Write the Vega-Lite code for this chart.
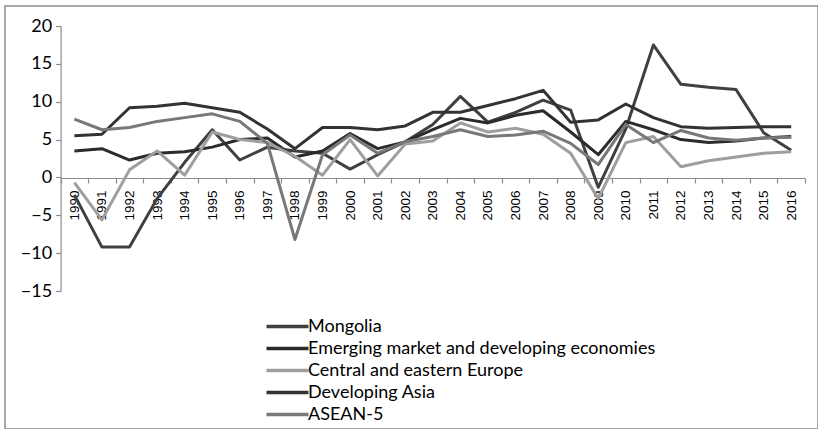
{
  "$schema": "https://vega.github.io/schema/vega-lite/v6.json",
  "width": 813,
  "height": 423,
  "padding": {"left": 5, "top": 6, "right": 0, "bottom": 0},
  "autosize": {"type": "none"},
  "background": "white",
  "config": {
    "view": {"stroke": "#8c8c8c", "strokeWidth": 1.5},
    "axis": {"domainColor": "#8c8c8c", "tickColor": "#8c8c8c", "labelColor": "#000000", "grid": false, "title": null}
  },
  "data": {"values": [
    {"year":"1990","series":"Mongolia","value":-2.3},{"year":"1990","series":"Emerging market and developing economies","value":3.5},{"year":"1990","series":"Central and eastern Europe","value":-0.7},{"year":"1990","series":"Developing Asia","value":5.5},{"year":"1990","series":"ASEAN-5","value":7.7},
    {"year":"1991","series":"Mongolia","value":-9.2},{"year":"1991","series":"Emerging market and developing economies","value":3.8},{"year":"1991","series":"Central and eastern Europe","value":-5.6},{"year":"1991","series":"Developing Asia","value":5.7},{"year":"1991","series":"ASEAN-5","value":6.3},
    {"year":"1992","series":"Mongolia","value":-9.2},{"year":"1992","series":"Emerging market and developing economies","value":2.3},{"year":"1992","series":"Central and eastern Europe","value":1.0},{"year":"1992","series":"Developing Asia","value":9.2},{"year":"1992","series":"ASEAN-5","value":6.6},
    {"year":"1993","series":"Mongolia","value":-2.8},{"year":"1993","series":"Emerging market and developing economies","value":3.2},{"year":"1993","series":"Central and eastern Europe","value":3.5},{"year":"1993","series":"Developing Asia","value":9.4},{"year":"1993","series":"ASEAN-5","value":7.4},
    {"year":"1994","series":"Mongolia","value":2.0},{"year":"1994","series":"Emerging market and developing economies","value":3.4},{"year":"1994","series":"Central and eastern Europe","value":0.3},{"year":"1994","series":"Developing Asia","value":9.8},{"year":"1994","series":"ASEAN-5","value":7.9},
    {"year":"1995","series":"Mongolia","value":6.3},{"year":"1995","series":"Emerging market and developing economies","value":4.0},{"year":"1995","series":"Central and eastern Europe","value":6.0},{"year":"1995","series":"Developing Asia","value":9.2},{"year":"1995","series":"ASEAN-5","value":8.4},
    {"year":"1996","series":"Mongolia","value":2.3},{"year":"1996","series":"Emerging market and developing economies","value":5.0},{"year":"1996","series":"Central and eastern Europe","value":5.0},{"year":"1996","series":"Developing Asia","value":8.6},{"year":"1996","series":"ASEAN-5","value":7.4},
    {"year":"1997","series":"Mongolia","value":4.0},{"year":"1997","series":"Emerging market and developing economies","value":5.2},{"year":"1997","series":"Central and eastern Europe","value":4.6},{"year":"1997","series":"Developing Asia","value":6.4},{"year":"1997","series":"ASEAN-5","value":4.5},
    {"year":"1998","series":"Mongolia","value":3.5},{"year":"1998","series":"Emerging market and developing economies","value":2.7},{"year":"1998","series":"Central and eastern Europe","value":2.8},{"year":"1998","series":"Developing Asia","value":3.8},{"year":"1998","series":"ASEAN-5","value":-8.2},
    {"year":"1999","series":"Mongolia","value":3.2},{"year":"1999","series":"Emerging market and developing economies","value":3.5},{"year":"1999","series":"Central and eastern Europe","value":0.3},{"year":"1999","series":"Developing Asia","value":6.6},{"year":"1999","series":"ASEAN-5","value":3.0},
    {"year":"2000","series":"Mongolia","value":1.1},{"year":"2000","series":"Emerging market and developing economies","value":5.8},{"year":"2000","series":"Central and eastern Europe","value":5.0},{"year":"2000","series":"Developing Asia","value":6.6},{"year":"2000","series":"ASEAN-5","value":5.6},
    {"year":"2001","series":"Mongolia","value":3.0},{"year":"2001","series":"Emerging market and developing economies","value":3.8},{"year":"2001","series":"Central and eastern Europe","value":0.2},{"year":"2001","series":"Developing Asia","value":6.3},{"year":"2001","series":"ASEAN-5","value":3.2},
    {"year":"2002","series":"Mongolia","value":4.7},{"year":"2002","series":"Emerging market and developing economies","value":4.7},{"year":"2002","series":"Central and eastern Europe","value":4.4},{"year":"2002","series":"Developing Asia","value":6.8},{"year":"2002","series":"ASEAN-5","value":4.7},
    {"year":"2003","series":"Mongolia","value":7.0},{"year":"2003","series":"Emerging market and developing economies","value":6.3},{"year":"2003","series":"Central and eastern Europe","value":4.8},{"year":"2003","series":"Developing Asia","value":8.6},{"year":"2003","series":"ASEAN-5","value":5.4},
    {"year":"2004","series":"Mongolia","value":10.7},{"year":"2004","series":"Emerging market and developing economies","value":7.8},{"year":"2004","series":"Central and eastern Europe","value":7.2},{"year":"2004","series":"Developing Asia","value":8.6},{"year":"2004","series":"ASEAN-5","value":6.3},
    {"year":"2005","series":"Mongolia","value":7.3},{"year":"2005","series":"Emerging market and developing economies","value":7.2},{"year":"2005","series":"Central and eastern Europe","value":6.0},{"year":"2005","series":"Developing Asia","value":9.5},{"year":"2005","series":"ASEAN-5","value":5.4},
    {"year":"2006","series":"Mongolia","value":8.6},{"year":"2006","series":"Emerging market and developing economies","value":8.2},{"year":"2006","series":"Central and eastern Europe","value":6.5},{"year":"2006","series":"Developing Asia","value":10.4},{"year":"2006","series":"ASEAN-5","value":5.6},
    {"year":"2007","series":"Mongolia","value":10.2},{"year":"2007","series":"Emerging market and developing economies","value":8.8},{"year":"2007","series":"Central and eastern Europe","value":5.7},{"year":"2007","series":"Developing Asia","value":11.5},{"year":"2007","series":"ASEAN-5","value":6.1},
    {"year":"2008","series":"Mongolia","value":8.9},{"year":"2008","series":"Emerging market and developing economies","value":6.0},{"year":"2008","series":"Central and eastern Europe","value":3.2},{"year":"2008","series":"Developing Asia","value":7.3},{"year":"2008","series":"ASEAN-5","value":4.5},
    {"year":"2009","series":"Mongolia","value":-1.3},{"year":"2009","series":"Emerging market and developing economies","value":3.0},{"year":"2009","series":"Central and eastern Europe","value":-2.8},{"year":"2009","series":"Developing Asia","value":7.6},{"year":"2009","series":"ASEAN-5","value":1.7},
    {"year":"2010","series":"Mongolia","value":6.4},{"year":"2010","series":"Emerging market and developing economies","value":7.4},{"year":"2010","series":"Central and eastern Europe","value":4.6},{"year":"2010","series":"Developing Asia","value":9.7},{"year":"2010","series":"ASEAN-5","value":7.0},
    {"year":"2011","series":"Mongolia","value":17.5},{"year":"2011","series":"Emerging market and developing economies","value":6.3},{"year":"2011","series":"Central and eastern Europe","value":5.4},{"year":"2011","series":"Developing Asia","value":7.9},{"year":"2011","series":"ASEAN-5","value":4.6},
    {"year":"2012","series":"Mongolia","value":12.3},{"year":"2012","series":"Emerging market and developing economies","value":5.0},{"year":"2012","series":"Central and eastern Europe","value":1.4},{"year":"2012","series":"Developing Asia","value":6.7},{"year":"2012","series":"ASEAN-5","value":6.2},
    {"year":"2013","series":"Mongolia","value":11.9},{"year":"2013","series":"Emerging market and developing economies","value":4.6},{"year":"2013","series":"Central and eastern Europe","value":2.2},{"year":"2013","series":"Developing Asia","value":6.5},{"year":"2013","series":"ASEAN-5","value":5.2},
    {"year":"2014","series":"Mongolia","value":11.6},{"year":"2014","series":"Emerging market and developing economies","value":4.8},{"year":"2014","series":"Central and eastern Europe","value":2.7},{"year":"2014","series":"Developing Asia","value":6.6},{"year":"2014","series":"ASEAN-5","value":4.9},
    {"year":"2015","series":"Mongolia","value":5.9},{"year":"2015","series":"Emerging market and developing economies","value":5.2},{"year":"2015","series":"Central and eastern Europe","value":3.2},{"year":"2015","series":"Developing Asia","value":6.7},{"year":"2015","series":"ASEAN-5","value":5.2},
    {"year":"2016","series":"Mongolia","value":3.6},{"year":"2016","series":"Emerging market and developing economies","value":5.4},{"year":"2016","series":"Central and eastern Europe","value":3.4},{"year":"2016","series":"Developing Asia","value":6.7},{"year":"2016","series":"ASEAN-5","value":5.3}
  ]},
  "mark": {"type": "line", "strokeWidth": 3, "strokeJoin": "round"},
  "encoding": {
    "x": {
      "field": "year", "type": "ordinal", "bandPosition": 0.5,
      "scale": {"type": "band", "range": [55.6, 800], "paddingInner": 0, "paddingOuter": 0},
      "axis": {"orient": "bottom", "offset": -251, "tickBand": "extent", "labelAngle": -90, "labelFont": "Liberation Sans", "labelFontSize": 13.5, "tickSize": 5, "labelPadding": 7, "domainWidth": 1.2, "tickWidth": 1.2}
    },
    "y": {
      "field": "value", "type": "quantitative",
      "scale": {"domain": [-15, 20], "range": [285, 20], "nice": false, "zero": false},
      "axis": {"orient": "left", "offset": -55.6, "values": [-15, -10, -5, 0, 5, 10, 15, 20], "labelFont": "Lato", "labelFontSize": 18, "tickSize": 5, "labelPadding": 4, "domainWidth": 1.2, "tickWidth": 1.2}
    },
    "color": {
      "field": "series", "type": "nominal",
      "scale": {
        "domain": ["Mongolia", "Emerging market and developing economies", "Central and eastern Europe", "Developing Asia", "ASEAN-5"],
        "range": ["#404040", "#2b2b2b", "#9e9e9e", "#333333", "#787878"]
      },
      "legend": {
        "orient": "none", "legendX": 270, "legendY": 308, "title": null,
        "symbolType": "M-2,0H2", "symbolSize": 441, "symbolStrokeWidth": 3.5,
        "labelFont": "Lato", "labelFontSize": 18, "labelColor": "#000000", "labelOffset": 8, "rowPadding": -1, "labelLimit": 500
      }
    }
  }
}
